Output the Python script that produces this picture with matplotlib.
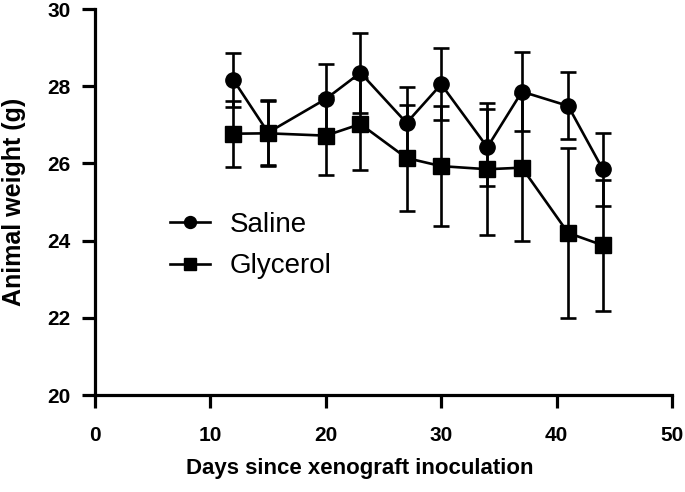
import numpy as np
import matplotlib
matplotlib.use("Agg")
import matplotlib.pyplot as plt

#-------------------------------------------------
#   data
#-------------------------------------------------
days = [12, 15, 20, 23, 27, 30, 34, 37, 41, 44]

saline_mean = [28.16, 26.80, 27.67, 28.35, 27.05, 28.05, 26.42, 27.86, 27.49, 25.85]
saline_sd   = [0.70, 0.85, 0.90, 1.04, 0.92, 0.93, 1.00, 1.03, 0.87, 0.95]

glycerol_mean = [26.77, 26.78, 26.72, 27.02, 26.14, 25.93, 25.85, 25.89, 24.20, 23.88]
glycerol_sd   = [0.85, 0.85, 1.02, 1.19, 1.37, 1.55, 1.71, 1.90, 2.21, 1.70]

x_ticks = [0, 10, 20, 30, 40, 50]
y_ticks = [20, 22, 24, 26, 28, 30]

plt.rcParams['font.family'] = ['Liberation Sans', 'DejaVu Sans']

fig = plt.figure(figsize=(6.85, 4.92), dpi=100)
ax = fig.add_axes([0.1387, 0.197, 0.8423, 0.7847])

ax.errorbar(days, saline_mean, yerr=saline_sd, color='black', lw=1.9,
            marker='o', markersize=11, capsize=5.5, capthick=1.9, elinewidth=1.9,
            label='Saline', zorder=3)
ax.errorbar(days, glycerol_mean, yerr=glycerol_sd, color='black', lw=1.9,
            marker='s', markersize=11.5, capsize=5.5, capthick=1.9, elinewidth=1.9,
            label='Glycerol', zorder=4)

ax.set_xlim(0, 50)
ax.set_ylim(20, 30)
ax.set_xticks(x_ticks)
ax.set_yticks(y_ticks)

for s in ['top', 'right']:
    ax.spines[s].set_visible(False)
for s in ['left', 'bottom']:
    ax.spines[s].set_linewidth(2.3)
ax.tick_params(direction='out', length=9.5, width=2.3, labelsize=15)
ax.tick_params(axis='x', pad=13)
ax.tick_params(axis='y', pad=8)
for lab in ax.get_xticklabels() + ax.get_yticklabels():
    lab.set_fontweight('bold')

ax.set_xlabel('Days since xenograft inoculation', fontsize=16, fontweight='bold')
ax.set_ylabel('Animal weight (g)', fontsize=18, fontweight='bold')
ax.xaxis.set_label_coords(0.459, -0.163)
ax.yaxis.set_label_coords(-0.12, 0.5)

# legend without the error bars in the handles
handles, labels = ax.get_legend_handles_labels()
handles = [h[0] for h in handles]
ax.legend(handles, labels, loc='center left', bbox_to_anchor=(0.13, 0.387), frameon=False,
          fontsize=20, handlelength=1.45, labelspacing=0.55, handletextpad=0.7,
          borderaxespad=0, borderpad=0, markerscale=0.78)

fig.savefig('out.png', dpi=100)
